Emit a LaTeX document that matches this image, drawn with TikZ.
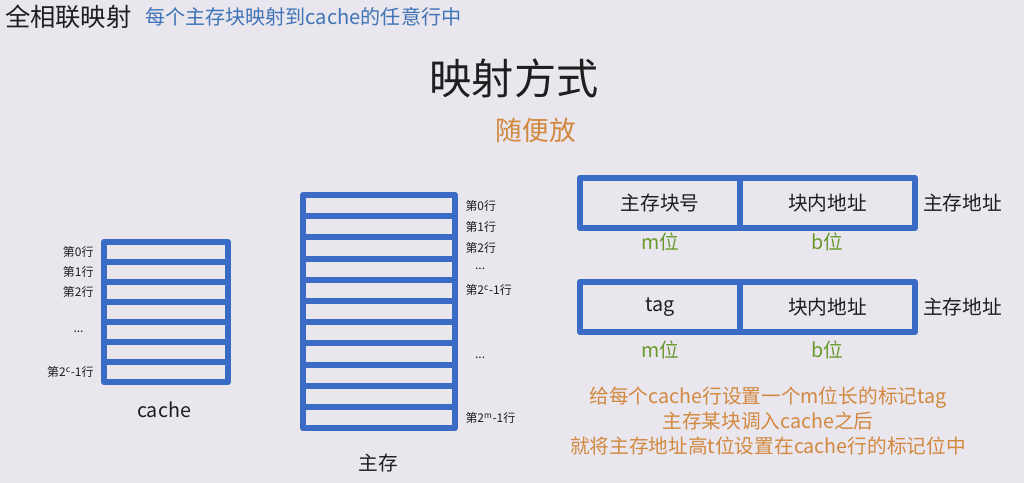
\documentclass[tikz,border=0pt]{standalone}
\usepackage{fontspec}
\setmainfont{Noto Sans CJK SC}
\usepackage{tikz}

\definecolor{bg_grey}{HTML}{E9E6EE}
\definecolor{pen_blue}{HTML}{3A6CC6}
\definecolor{head_blue}{HTML}{3F74B8}
\definecolor{note_orange}{HTML}{D2893F}
\definecolor{bit_green}{HTML}{6A9A2E}
\definecolor{ink}{HTML}{1E1E1E}

\tikzstyle{cache_row} = [rectangle, draw=pen_blue, line width=4.3pt, line join=round, minimum width=3.1cm, minimum height=0.5cm, inner sep=0pt]
\tikzstyle{mem_row} = [rectangle, draw=pen_blue, line width=4.3pt, line join=round, minimum width=3.8cm, minimum height=0.53cm, inner sep=0pt]
\tikzstyle{field_block} = [rectangle, draw=pen_blue, line width=4.3pt, line join=round, minimum height=1.25cm, text centered, text=ink, font=\fontsize{14}{16}\selectfont]
\tikzstyle{row_label} = [inner sep=0pt, text=ink, font=\fontsize{8.5}{10}\selectfont]
\tikzstyle{plain_text} = [inner sep=0pt, text=ink, font=\fontsize{14}{16}\selectfont]
\tikzstyle{bits_text} = [inner sep=0pt, text=bit_green, font=\fontsize{14}{16}\selectfont]
\tikzstyle{orange_text} = [inner sep=0pt, text=note_orange, font=\fontsize{14}{17.8}\selectfont]

\begin{document}
\begin{tikzpicture}[node distance=0.5cm]
		\fill[bg_grey] (0,0) rectangle (25.6,-12.075);
		\useasboundingbox (0,0) rectangle (25.6,-12.075);

		% heading
		\node (head) [plain_text, anchor=west, font=\fontsize{18}{20}\selectfont] at (0.12,-0.43) {全相联映射};
		\node (sub) [plain_text, anchor=west, text=head_blue, font=\fontsize{14.3}{16}\selectfont] at (3.62,-0.43) {每个主存块映射到cache的任意行中};
		\node (way) [plain_text, font=\fontsize{30}{32}\selectfont] at (12.85,-1.95) {映射方式};
		\node (free) [orange_text, font=\fontsize{19}{21}\selectfont] at (13.4,-3.25) {随便放};

		% cache
		\node (c0) [cache_row] at (4.14,-6.3) {};
		\node (c1) [cache_row, below of=c0] {};
		\node (c2) [cache_row, below of=c1] {};
		\node (c3) [cache_row, below of=c2] {};
		\node (c4) [cache_row, below of=c3] {};
		\node (c5) [cache_row, below of=c4] {};
		\node (c6) [cache_row, below of=c5] {};
		\node (c0l) [row_label, anchor=east, xshift=-0.17cm] at (c0.west) {第0行};
		\node (c1l) [row_label, anchor=east, xshift=-0.17cm] at (c1.west) {第1行};
		\node (c2l) [row_label, anchor=east, xshift=-0.17cm] at (c2.west) {第2行};
		\node (c4l) [row_label, anchor=east, xshift=-0.42cm] at (c4.west) {...};
		\node (c6l) [row_label, anchor=east, xshift=-0.17cm] at (c6.west) {第2\textsuperscript{c}-1行};
		\node (cache) [plain_text] at (4.1,-10.25) {cache};

		% main memory
		\node (m0) [mem_row] at (9.475,-5.14) {};
		\node (m1) [mem_row, below of=m0, node distance=0.53cm] {};
		\node (m2) [mem_row, below of=m1, node distance=0.53cm] {};
		\node (m3) [mem_row, below of=m2, node distance=0.53cm] {};
		\node (m4) [mem_row, below of=m3, node distance=0.53cm] {};
		\node (m5) [mem_row, below of=m4, node distance=0.53cm] {};
		\node (m6) [mem_row, below of=m5, node distance=0.53cm] {};
		\node (m7) [mem_row, below of=m6, node distance=0.53cm] {};
		\node (m8) [mem_row, below of=m7, node distance=0.53cm] {};
		\node (m9) [mem_row, below of=m8, node distance=0.53cm] {};
		\node (m10) [mem_row, below of=m9, node distance=0.53cm] {};
		\node (m0l) [row_label, anchor=west, xshift=0.18cm] at (m0.east) {第0行};
		\node (m1l) [row_label, anchor=west, xshift=0.18cm] at (m1.east) {第1行};
		\node (m2l) [row_label, anchor=west, xshift=0.18cm] at (m2.east) {第2行};
		\node (m3l) [row_label, anchor=west, xshift=0.42cm] at (m3.east) {...};
		\node (m4l) [row_label, anchor=west, xshift=0.18cm] at (m4.east) {第2\textsuperscript{c}-1行};
		\node (m7l) [row_label, anchor=west, xshift=0.42cm, yshift=-0.1cm] at (m7.east) {...};
		\node (m10l) [row_label, anchor=west, xshift=0.18cm] at (m10.east) {第2\textsuperscript{m}-1行};
		\node (mem) [plain_text] at (9.45,-11.57) {主存};

		% main memory address
		\node (a1) [field_block, minimum width=4cm] at (16.5,-5.075) {主存块号};
		\node (a2) [field_block, minimum width=4.375cm, right of=a1, node distance=4.1875cm] {块内地址};
		\node (a3) [plain_text, anchor=west, xshift=0.12cm] at (a2.east) {主存地址};
		\node (a1b) [bits_text, below of=a1, node distance=0.98cm] {m位};
		\node (a2b) [bits_text, below of=a2, node distance=0.98cm] {b位};

		% address with tag
		\node (t1) [field_block, minimum width=4cm] at (16.5,-7.675) {tag};
		\node (t2) [field_block, minimum width=4.375cm, right of=t1, node distance=4.1875cm] {块内地址};
		\node (t3) [plain_text, anchor=west, xshift=0.12cm] at (t2.east) {主存地址};
		\node (t1b) [bits_text, below of=t1, node distance=1.07cm] {m位};
		\node (t2b) [bits_text, below of=t2, node distance=1.07cm] {b位};

		% note
		\node (note) [orange_text, align=center] at (19.2,-10.53) {给每个cache行设置一个m位长的标记tag\\主存某块调入cache之后\\就将主存地址高t位设置在cache行的标记位中};

\end{tikzpicture}
\end{document}
